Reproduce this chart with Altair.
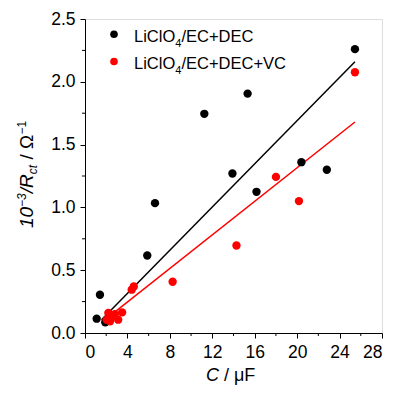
import altair as alt
import pandas as pd

W, H = 297, 314
FONT = "Liberation Sans, Arial, sans-serif"

# ---- data ----
black_x = [1.1, 1.41, 1.91, 5.87, 6.6, 11.25, 13.9, 15.33, 16.17, 20.4, 22.8, 25.45]
black_y = [0.114, 0.305, 0.085, 0.617, 1.034, 1.745, 1.27, 1.906, 1.124, 1.36, 1.30, 2.26]
red_x = [2.04, 2.2, 2.36, 2.5, 2.8, 3.13, 3.5, 4.4, 4.6, 8.26, 14.28, 18.0, 20.17, 25.45]
red_y = [0.106, 0.16, 0.093, 0.13, 0.15, 0.106, 0.164, 0.345, 0.37, 0.408, 0.697, 1.243, 1.05, 2.076]
fit_black_x = [1.56, 25.45]
fit_black_y = [0.106, 2.16]
fit_red_x = [1.9, 25.45]
fit_red_y = [0.106, 1.68]
series = ["LiClO4/EC+DEC", "LiClO4/EC+DEC+VC"]
colors = ["#000000", "#ff0000"]
x_ticks = [0, 4, 8, 12, 16, 20, 24, 28]
x_minor = [2, 6, 10, 14, 18, 22, 26]
y_ticks = [0.0, 0.5, 1.0, 1.5, 2.0, 2.5]
y_minor = [0.25, 0.75, 1.25, 1.75, 2.25]

pts = pd.concat([
    pd.DataFrame({"x": black_x, "y": black_y, "s": series[0]}),
    pd.DataFrame({"x": red_x, "y": red_y, "s": series[1]}),
])
fits = pd.concat([
    pd.DataFrame({"x": fit_black_x, "y": fit_black_y, "s": series[0]}),
    pd.DataFrame({"x": fit_red_x, "y": fit_red_y, "s": series[1]}),
])

ax_common = dict(domainColor="black", tickColor="black", tickSize=5, grid=False,
                 labelFont=FONT, labelFontSize=17.5, labelColor="black", title=None)
X = alt.X("x:Q", scale=alt.Scale(domain=[0, 28], nice=False, zero=False),
          axis=alt.Axis(values=x_ticks, labelPadding=5, **ax_common))
Y = alt.Y("y:Q", scale=alt.Scale(domain=[0, 2.5], nice=False, zero=False),
          axis=alt.Axis(values=y_ticks, format=".1f", labelPadding=5, **ax_common))
C = alt.Color("s:N", scale=alt.Scale(domain=series, range=colors), legend=None)

lines = alt.Chart(fits).mark_line(strokeWidth=1.5).encode(x=X, y=Y, color=C, detail="s:N")
points = alt.Chart(pts).mark_circle(size=70, opacity=1).encode(x=X, y=Y, color=C)

minor_x = alt.Chart(pd.DataFrame({"x": x_minor})).mark_rule(color="black").encode(
    x=X, y=alt.value(H), y2=alt.value(H + 3))
minor_y = alt.Chart(pd.DataFrame({"y": y_minor})).mark_rule(color="black").encode(
    y=Y, x=alt.value(0), x2=alt.value(-3))

one = pd.DataFrame({"a": [0]})


def txt(s, x, y, size, italic=False, angle=0, dx=0, dy=0, color="black"):
    kw = dict(text=s, font=FONT, fontSize=size, color=color, align="left",
              baseline="alphabetic", dx=dx, dy=dy)
    if italic:
        kw["fontStyle"] = "italic"
    if angle:
        kw["angle"] = angle
    return alt.Chart(one).mark_text(**kw).encode(x=alt.value(x), y=alt.value(y))


# y-axis title: 10^-3/R_ct / Ω^-1 (rotated)
YT_X, YT_Y = -52, 209
ytitle = [
    txt("10", YT_X, YT_Y, 19, True, 270, dx=0),
    txt("\u22123", YT_X, YT_Y, 12, True, 270, dx=21.1, dy=-7),
    txt("/R", YT_X, YT_Y, 19, True, 270, dx=34.8),
    txt("ct", YT_X, YT_Y, 12, True, 270, dx=53.8, dy=4),
    txt("/ \u03a9", YT_X, YT_Y, 19, False, 270, dx=68.4),
    txt("\u22121", YT_X, YT_Y, 12, False, 270, dx=93.6, dy=-7),
]

# x-axis title: C / μF
xtitle = [
    txt("C", 121, 362, 18, True),
    txt("/ \u03bcF", 139, 362, 18, False),
]

# legend
leg = []
for i, (col, tail) in enumerate([("black", "/EC+DEC"), ("#ff0000", "/EC+DEC+VC")]):
    yy = 15.3 + i * 27.2
    base = 22.7 + i * 26.8
    leg.append(alt.Chart(one).mark_circle(size=58, opacity=1, color=col).encode(
        x=alt.value(29), y=alt.value(yy)))
    leg.append(txt("LiClO", 49, base, 16.5))
    leg.append(txt("4", 90.3, base + 5, 11))
    leg.append(txt(tail, 96.4, base, 16.5))

chart = alt.layer(minor_x, minor_y, lines, points, *ytitle, *xtitle, *leg).properties(
    width=W, height=H,
    autosize=alt.AutoSizeParams(type="none"),
    padding={"left": 77, "top": 11, "right": 3, "bottom": 55},
).configure_view(stroke="black", strokeWidth=1).configure(background="white")

chart.save("out.html", embed_options={"renderer": "svg", "actions": False})
